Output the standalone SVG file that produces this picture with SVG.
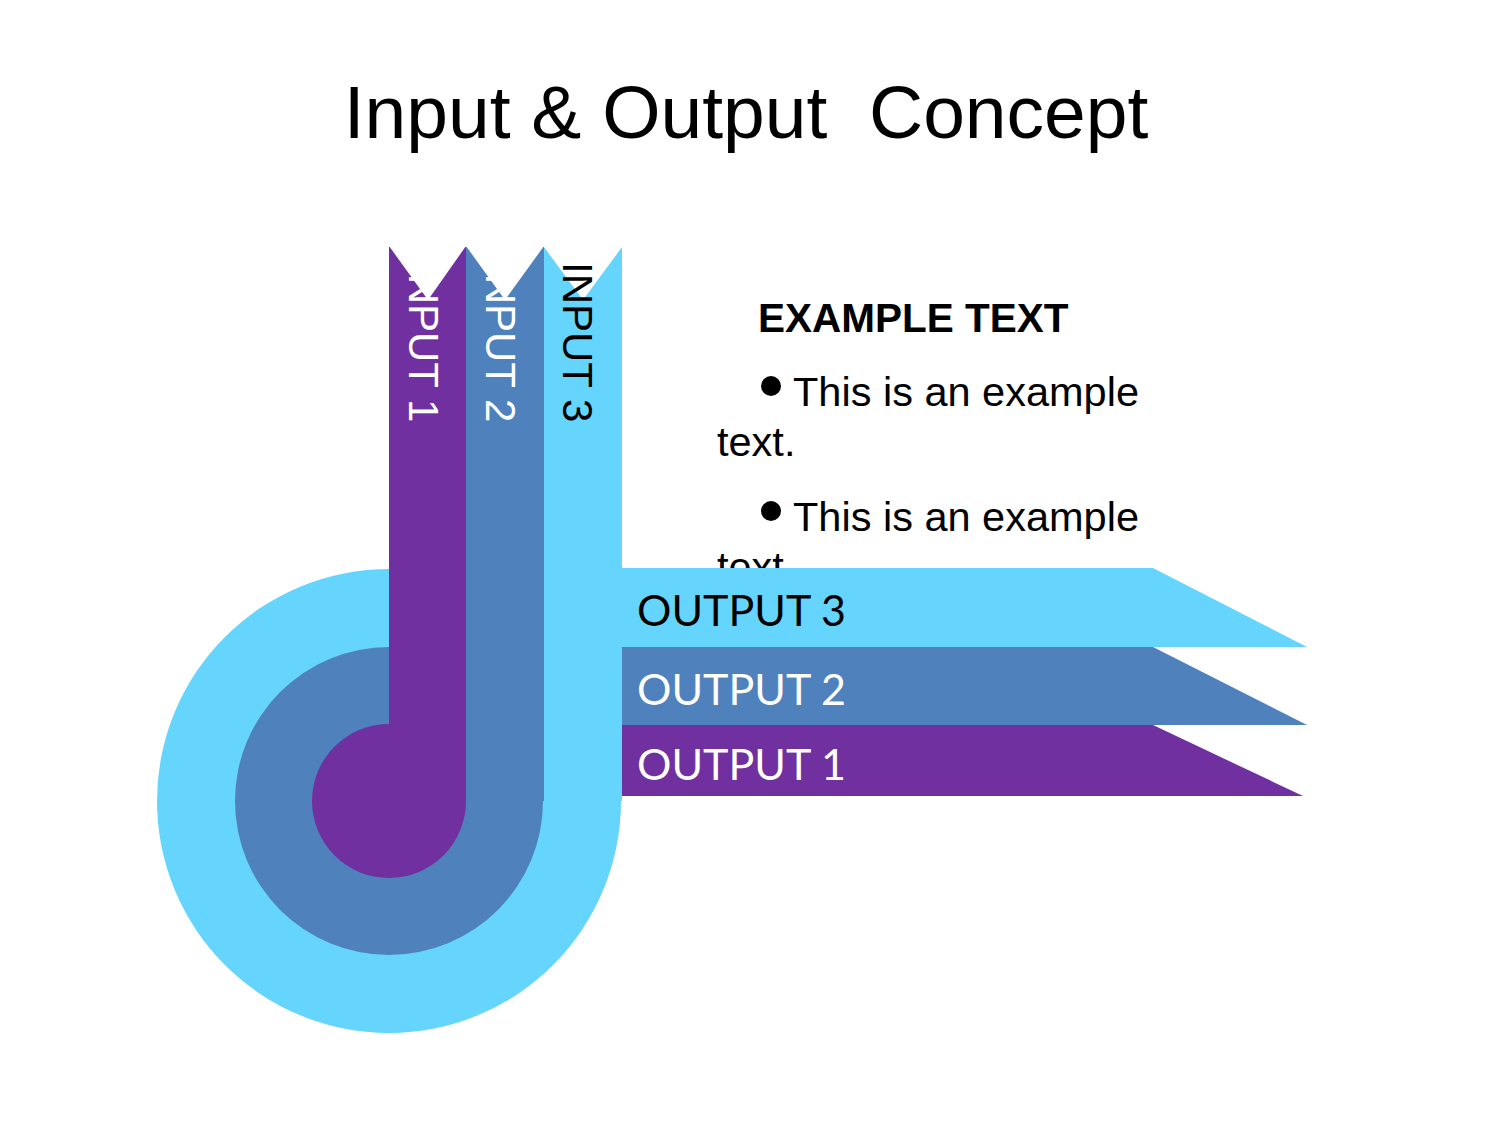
<svg xmlns="http://www.w3.org/2000/svg" width="1500" height="1125" viewBox="0 0 1500 1125">
<style>
.cy{fill:#66d5fd}.bl{fill:#4f81bd}.pu{fill:#7030a0}
.in{font-family:"Liberation Sans",Arial,sans-serif;font-size:42px}
.out{font-family:Lato,"Open Sans",sans-serif;font-size:43px}
.body{font-family:"Liberation Sans",Arial,sans-serif;font-size:41.5px;fill:#000}
</style>
<rect width="1500" height="1125" fill="#fff"/>
<text x="746" y="138" text-anchor="middle" xml:space="preserve" font-family="Liberation Sans,Arial,sans-serif" font-size="75" fill="#000">Input &amp; Output  Concept</text>
<g id="example-text">
<text x="758" y="332" font-family="Liberation Sans,Arial,sans-serif" font-size="40.5" font-weight="bold">EXAMPLE TEXT</text>
<circle cx="771" cy="386" r="10"/>
<text class="body" x="793" y="406">This is an example</text>
<text class="body" x="717" y="456">text.</text>
<circle cx="771" cy="511" r="10"/>
<text class="body" x="793" y="531">This is an example</text>
<text class="body" x="717" y="581">text.</text>
</g>
<g id="output3"><polygon class="cy" points="622,568 1153,568 1307,647 622,647"/><text class="out" x="637" y="626" fill="#000">OUTPUT 3</text></g>
<g id="output2"><polygon class="bl" points="622,647 1153,647 1307,725 622,725"/><text class="out" x="637" y="705" fill="#fff">OUTPUT 2</text></g>
<g id="output1"><polygon class="pu" points="622,725 1153,725 1303,796 622,796"/><text class="out" x="637" y="780" fill="#fff">OUTPUT 1</text></g>
<g id="input3">
<circle class="cy" cx="389" cy="801" r="232"/>
<rect class="cy" x="389" y="569" width="233" height="232"/>
<polygon class="cy" points="544,247 583,300 622,247 622,801 544,801"/>
<text class="in" transform="translate(563,262) rotate(90)" fill="#000">INPUT 3</text>
</g>
<g id="input2">
<circle class="bl" cx="389" cy="801" r="154"/>
<rect class="bl" x="389" y="647" width="154" height="154"/>
<rect class="bl" x="466" y="247" width="78" height="554"/>
<text class="in" transform="translate(486,262) rotate(90)" fill="#fff">INPUT 2</text>
<polygon fill="#fff" points="466,246 505,300 544,246"/>
</g>
<g id="input1">
<circle class="pu" cx="389" cy="801" r="77"/>
<rect class="pu" x="389" y="247" width="77" height="554"/>
<text class="in" transform="translate(409,262) rotate(90)" fill="#fff">INPUT 1</text>
<polygon fill="#fff" points="389,246 428,300 466,246"/>
</g>
</svg>
